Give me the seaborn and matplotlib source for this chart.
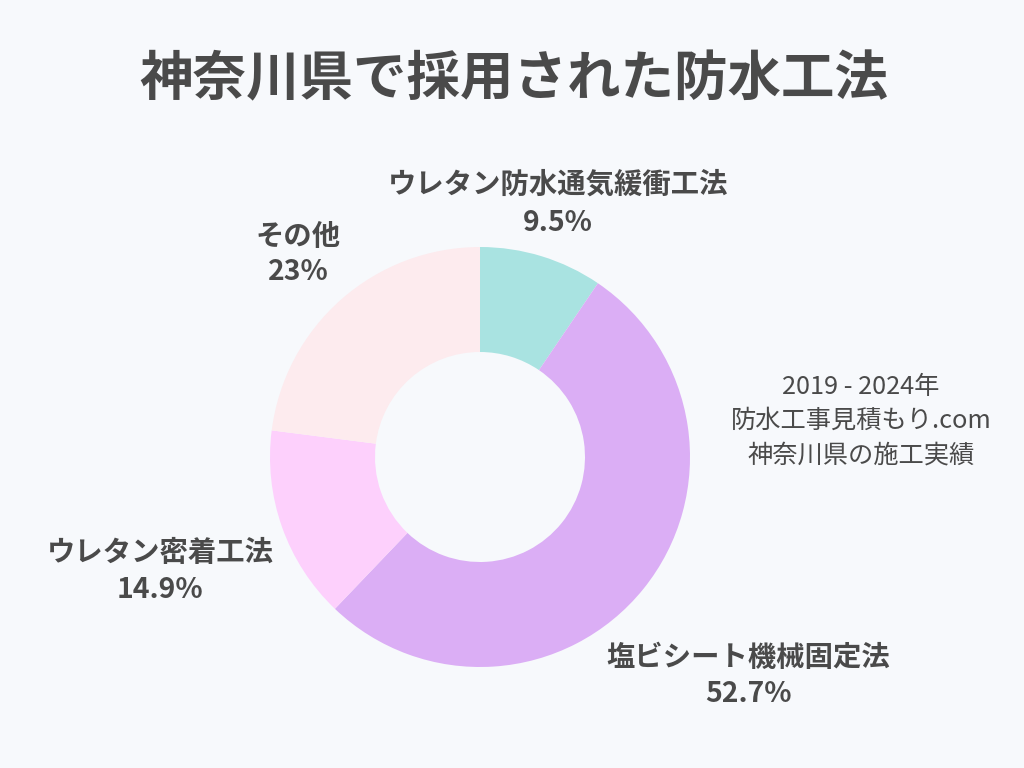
import matplotlib
matplotlib.use("Agg")
import matplotlib.pyplot as plt
import seaborn as sns

sns.set_theme(style="white")
plt.rcParams['font.family'] = ['Noto Sans CJK JP', 'DejaVu Sans']

categories = ["ウレタン防水通気緩衝工法", "塩ビシート機械固定法", "ウレタン密着工法", "その他"]
values = [9.5, 52.7, 14.9, 23]
value_labels = ["9.5%", "52.7%", "14.9%", "23%"]
colors = ["#a9e3e1", "#dbaef5", "#fdd0fc", "#fdebee"]
title = "神奈川県で採用された防水工法"
note = "2019 - 2024年\n防水工事見積もり.com\n神奈川県の施工実績"

W, H = 1024, 768
bg = "#f7f9fc"
fig = plt.figure(figsize=(W/100, H/100), dpi=100, facecolor=bg)

cx, cy, r = 480, 457, 210
ax = fig.add_axes([(cx - r)/W, (H - cy - r)/H, 2*r/W, 2*r/H])
ax.set_facecolor(bg)
ax.pie(values, colors=colors, startangle=90, counterclock=False, radius=1.0,
       wedgeprops=dict(width=0.5, edgecolor="none"))
ax.set_xlim(-1, 1); ax.set_ylim(-1, 1)
ax.set_aspect("equal")
ax.axis("off")

def ftext(x, y, s, **kw):
    fig.text(x/W, 1 - y/H, s, **kw)

txtc = "#4a4a4a"
ftext(514, 80, title, ha="center", va="center", fontsize=38.5, fontweight="bold", color=txtc)

label_pos = [(558, 185, 223), (748, 658, 694), (160, 553, 590), (298, 237, 272)]
for (x, y1, y2), cat, vl in zip(label_pos, categories, value_labels):
    ftext(x, y1, cat, ha="center", va="center", fontsize=20.4, fontweight="bold", color=txtc)
    ftext(x, y2, vl, ha="center", va="center", fontsize=20.4, fontweight="bold", color=txtc)

ftext(861, 421, note, ha="center", va="center", fontsize=18.2, color=txtc, linespacing=1.42)

fig.savefig("out.png", dpi=100, facecolor=bg)
